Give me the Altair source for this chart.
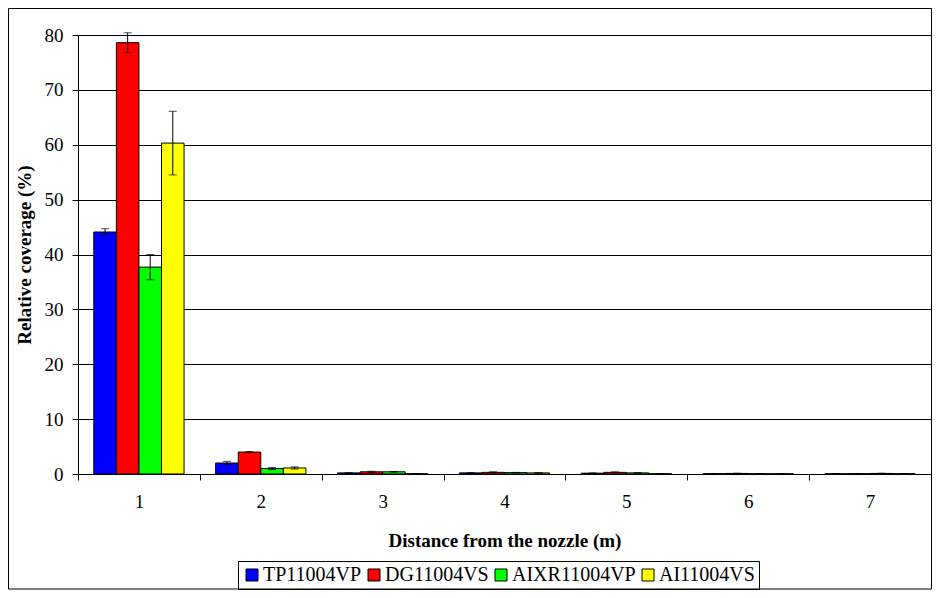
import altair as alt
import pandas as pd

distances = ["1", "2", "3", "4", "5", "6", "7"]
series = ["TP11004VP", "DG11004VS", "AIXR11004VP", "AI11004VS"]
colors = ["#0000FF", "#FF0000", "#00FF00", "#FFFF00"]

tp_vals = [44.1, 2.0, 0.2, 0.2, 0.15, 0.05, 0.05]
tp_err = [0.6, 0.3, 0.05, 0.05, 0.05, 0.02, 0.02]
dg_vals = [78.6, 4.0, 0.4, 0.3, 0.3, 0.1, 0.05]
dg_err = [1.8, 0.1, 0.1, 0.1, 0.1, 0.05, 0.02]
aixr_vals = [37.7, 1.0, 0.4, 0.25, 0.2, 0.05, 0.1]
aixr_err = [2.3, 0.2, 0.05, 0.05, 0.05, 0.02, 0.05]
ai_vals = [60.3, 1.1, 0.05, 0.2, 0.05, 0.05, 0.05]
ai_err = [5.8, 0.2, 0.02, 0.05, 0.02, 0.02, 0.02]

rows = []
for name, vals, errs in [
    (series[0], tp_vals, tp_err),
    (series[1], dg_vals, dg_err),
    (series[2], aixr_vals, aixr_err),
    (series[3], ai_vals, ai_err),
]:
    for d, v, e in zip(distances, vals, errs):
        rows.append({"distance": d, "series": name, "value": v,
                     "lo": v - e, "hi": v + e})
df = pd.DataFrame(rows)

FONT = "Liberation Serif"
W, H = 853, 439

x_enc = alt.X("distance:N", sort=distances,
              scale=alt.Scale(paddingInner=0, paddingOuter=0),
              axis=alt.Axis(title="Distance from the nozzle (m)", labelAngle=0,
                            titleFontWeight="bold", titleFont=FONT, titleFontSize=19,
                            labelFont=FONT, labelFontSize=19, labelColor="black",
                            titleColor="black", domainColor="black", tickColor="black",
                            tickSize=6, tickBand="extent", labelPadding=12,
                            titlePadding=20))
xo = alt.XOffset("series:N", sort=series,
                 scale=alt.Scale(paddingInner=0, paddingOuter=0.7))
y_scale = alt.Scale(domain=[0, 80], nice=False)

base = alt.Chart(df)

bars = base.mark_bar(stroke="black", strokeWidth=1).encode(
    x=x_enc,
    xOffset=xo,
    y=alt.Y("value:Q", scale=y_scale,
            axis=alt.Axis(title="Relative coverage (%)", values=list(range(0, 81, 10)),
                          titleFontWeight="bold", titleFont=FONT, titleFontSize=19,
                          labelFont=FONT, labelFontSize=19, labelColor="black",
                          titleColor="black", domainColor="black", tickColor="black",
                          tickSize=6, labelPadding=9, titlePadding=10,
                          grid=True, gridColor="black", gridWidth=1)),
    fill=alt.Fill("series:N", sort=series,
                  scale=alt.Scale(domain=series, range=colors),
                  legend=alt.Legend(title=None, orient="none", direction="horizontal",
                                    legendX=160, legendY=H + 87,
                                    symbolType="square", symbolSize=144,
                                    symbolStrokeColor="black", symbolStrokeWidth=1,
                                    labelFont=FONT, labelFontSize=20, labelColor="black",
                                    columnPadding=2, symbolOffset=0, labelOffset=1,
                                    strokeColor="black", padding=4)),
)

rules = base.mark_rule(color="black", strokeWidth=1).encode(
    x=x_enc, xOffset=xo,
    y=alt.Y("lo:Q", scale=y_scale), y2="hi:Q",
)
caps_hi = base.mark_tick(color="black", thickness=1, size=8).encode(
    x=x_enc, xOffset=xo, y=alt.Y("hi:Q", scale=y_scale),
)
caps_lo = base.mark_tick(color="black", thickness=1, size=8).encode(
    x=x_enc, xOffset=xo, y=alt.Y("lo:Q", scale=y_scale),
)

frame = alt.Chart(pd.DataFrame({"a": [0]})).mark_rect(
    fill=None, stroke="black", strokeWidth=1, clip=False
).encode(x=alt.value(-69.5), x2=alt.value(W + 0.5), y=alt.value(-26.5), y2=alt.value(H + 115))

chart = alt.layer(bars, rules, caps_hi, caps_lo, frame).properties(
    width=W, height=H,
    autosize=alt.AutoSizeParams(type="none"),
    padding={"left": 70, "top": 27, "right": 1, "bottom": 116},
).configure(font=FONT).configure_view(stroke="black", strokeWidth=1)

chart.save("out.html", embed_options={"renderer": "svg", "actions": False})
